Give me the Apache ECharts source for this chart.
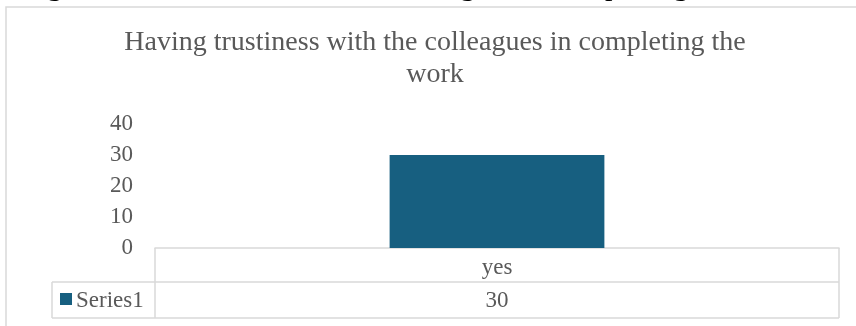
<!DOCTYPE html>
<html>
<head>
<meta charset="utf-8">
<script src="https://cdn.jsdelivr.net/npm/echarts@6/dist/echarts.min.js"></script>
<style>
  html, body { margin: 0; padding: 0; background: #ffffff; }
  #chart { width: 856px; height: 326px; }
</style>
</head>
<body>
<div id="chart"></div>
<script>
// Chart content
const chartTitle = 'Having trustiness with the colleagues in completing the\nwork';
const captionText = 'Figure 12: Trustiness with the colleagues in completing the work';
const categories = ['yes'];
const seriesName = 'Series1';
const seriesValues = [30];
const yTicks = [0, 10, 20, 30, 40];

const FONT = '"Liberation Serif", "Times New Roman", serif';
const TEXT = '#595959';
const LINE = '#d9d9d9';
const BAR = '#175F80';

const chart = echarts.init(document.getElementById('chart'), null, { renderer: 'canvas' });

const grid = { left: 155, right: 17, top: 124, bottom: 78 };

chart.setOption({
  animation: false,
  backgroundColor: '#ffffff',
  grid: grid,
  xAxis: {
    type: 'category',
    data: categories,
    axisLine: { show: true, lineStyle: { color: LINE, width: 1.5 } },
    axisTick: { show: false },
    axisLabel: { show: true, color: TEXT, fontFamily: FONT, fontSize: 23, margin: 8 },
    splitLine: { show: false }
  },
  yAxis: {
    type: 'value',
    min: yTicks[0],
    max: yTicks[yTicks.length - 1],
    interval: yTicks[1] - yTicks[0],
    axisLine: { show: false },
    axisTick: { show: false },
    splitLine: { show: false },
    axisLabel: { color: TEXT, fontFamily: FONT, fontSize: 23, margin: 22 }
  },
  series: [{
    name: seriesName,
    type: 'bar',
    data: seriesValues,
    barWidth: '31.4%',
    itemStyle: { color: BAR }
  }]
});

// Data table under the plot, laid out from the grid's pixel edges
const plotLeft = grid.left;
const plotRight = 856 - grid.right;
const axisY = 326 - grid.bottom;
const rowMid = axisY + 34;
const tableBottom = axisY + 70;
const keyLeft = 52;
const lineStyle = { stroke: LINE, lineWidth: 1.5 };

const elements = [
  // outer chart frame
  { type: 'rect', shape: { x: 6, y: 7, width: 870, height: 340 }, style: { fill: null, stroke: LINE, lineWidth: 1.5 }, silent: true },
  // caption line above the chart frame
  { type: 'text', x: 22, y: -28, style: { text: captionText, font: '30px ' + FONT, fill: '#000000', verticalAlign: 'top', lineHeight: 30 }, silent: true },
  // chart title
  { type: 'text', x: 435, y: 27, style: { text: chartTitle, font: '28px ' + FONT, fill: TEXT, align: 'center', verticalAlign: 'top', lineHeight: 32 }, silent: true },
  // table grid lines
  { type: 'line', shape: { x1: plotLeft, y1: axisY, x2: plotLeft, y2: tableBottom }, style: lineStyle },
  { type: 'line', shape: { x1: plotRight, y1: axisY, x2: plotRight, y2: tableBottom }, style: lineStyle },
  { type: 'line', shape: { x1: keyLeft, y1: rowMid, x2: plotRight, y2: rowMid }, style: lineStyle },
  { type: 'line', shape: { x1: keyLeft, y1: tableBottom, x2: plotRight, y2: tableBottom }, style: lineStyle },
  { type: 'line', shape: { x1: keyLeft, y1: rowMid, x2: keyLeft, y2: tableBottom }, style: lineStyle },
  // legend key and series name
  { type: 'rect', shape: { x: 60, y: 293, width: 12, height: 12 }, style: { fill: BAR } },
  { type: 'text', x: 76, y: (rowMid + tableBottom) / 2 + 1, style: { text: seriesName, font: '23px ' + FONT, fill: TEXT, verticalAlign: 'middle' } }
];

// value cells, one per category
categories.forEach(function (c, i) {
  const px = chart.convertToPixel({ xAxisIndex: 0 }, c);
  elements.push({
    type: 'text', x: px, y: (rowMid + tableBottom) / 2 + 1,
    style: { text: String(seriesValues[i]), font: '23px ' + FONT, fill: TEXT, align: 'center', verticalAlign: 'middle' }
  });
});

chart.setOption({ graphic: { elements: elements } });
</script>
</body>
</html>
